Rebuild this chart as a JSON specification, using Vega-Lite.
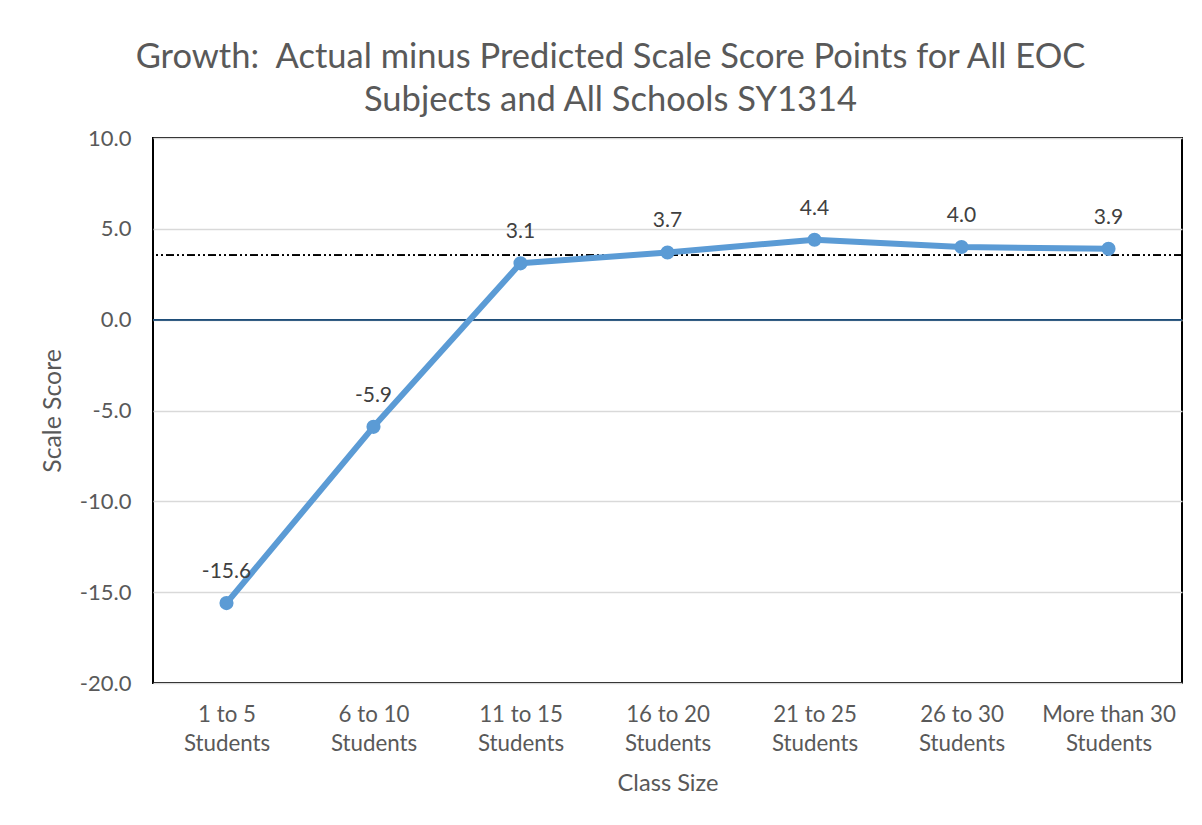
{
  "$schema": "https://vega.github.io/schema/vega-lite/v6.json",
  "width": 1029,
  "height": 545,
  "autosize": {"type": "none"},
  "padding": {"left": 153, "top": 138, "right": 20, "bottom": 142},
  "background": "white",
  "config": {
    "font": "Lato",
    "locale": {
      "number": {"decimal": ".", "thousands": ",", "grouping": [3], "currency": ["$", ""], "minus": "-"}
    },
    "view": {"stroke": "#000000", "strokeWidth": 2},
    "axis": {
      "labelFont": "Lato",
      "titleFont": "Lato",
      "labelColor": "#595959",
      "titleColor": "#595959",
      "titleFontWeight": "normal",
      "domain": false,
      "ticks": false
    }
  },
  "title": {
    "text": [
      "Growth:\u00a0 Actual minus Predicted Scale Score Points for All EOC",
      "Subjects and All Schools SY1314"
    ],
    "font": "Lato",
    "fontSize": 34.5,
    "fontWeight": "normal",
    "color": "#595959",
    "anchor": "middle",
    "dx": -57,
    "lineHeight": 43,
    "offset": 9
  },
  "data": {
    "values": [
      {"classSize": "1 to 5 Students", "growth": -15.6},
      {"classSize": "6 to 10 Students", "growth": -5.9},
      {"classSize": "11 to 15 Students", "growth": 3.1},
      {"classSize": "16 to 20 Students", "growth": 3.7},
      {"classSize": "21 to 25 Students", "growth": 4.4},
      {"classSize": "26 to 30 Students", "growth": 4.0},
      {"classSize": "More than 30 Students", "growth": 3.9}
    ]
  },
  "encoding": {
    "x": {
      "field": "classSize",
      "type": "nominal",
      "sort": null,
      "scale": {"type": "point", "padding": 0.5},
      "axis": {
        "title": "Class Size",
        "labelAngle": 0,
        "labelPadding": 20,
        "labelFontSize": 22.3,
        "labelLineHeight": 29,
        "labelExpr": "[replace(datum.label, ' Students', ''), 'Students']",
        "titlePadding": 17,
        "titleFontSize": 23.6,
        "grid": false
      }
    },
    "y": {
      "field": "growth",
      "type": "quantitative",
      "scale": {"domain": [-20, 10], "nice": false, "zero": false},
      "axis": {
        "title": "Scale Score",
        "values": [-20, -15, -10, -5, 0, 5, 10],
        "format": ".1f",
        "labelFontSize": 22,
        "labelPadding": 22,
        "titleFontSize": 24.8,
        "titlePadding": 14,
        "grid": true,
        "gridColor": "#D9D9D9",
        "gridWidth": 1.5
      }
    }
  },
  "layer": [
    {
      "mark": {"type": "rule", "color": "#1F4E79", "strokeWidth": 1.2},
      "encoding": {"y": {"datum": 0}, "x": null}
    },
    {
      "mark": {"type": "rule", "color": "#000000", "strokeWidth": 1, "strokeDash": [8, 3, 2, 3, 2, 3]},
      "encoding": {"y": {"datum": 3.55}, "x": null}
    },
    {
      "mark": {"type": "line", "color": "#5B9BD5", "strokeWidth": 6, "strokeCap": "round", "strokeJoin": "round"}
    },
    {
      "mark": {"type": "point", "filled": true, "color": "#5B9BD5", "size": 200, "opacity": 1}
    },
    {
      "mark": {"type": "text", "font": "Lato", "fontSize": 21, "color": "#404040", "baseline": "alphabetic", "dy": -25},
      "encoding": {"text": {"field": "growth", "type": "quantitative", "format": ".1f"}}
    }
  ]
}
